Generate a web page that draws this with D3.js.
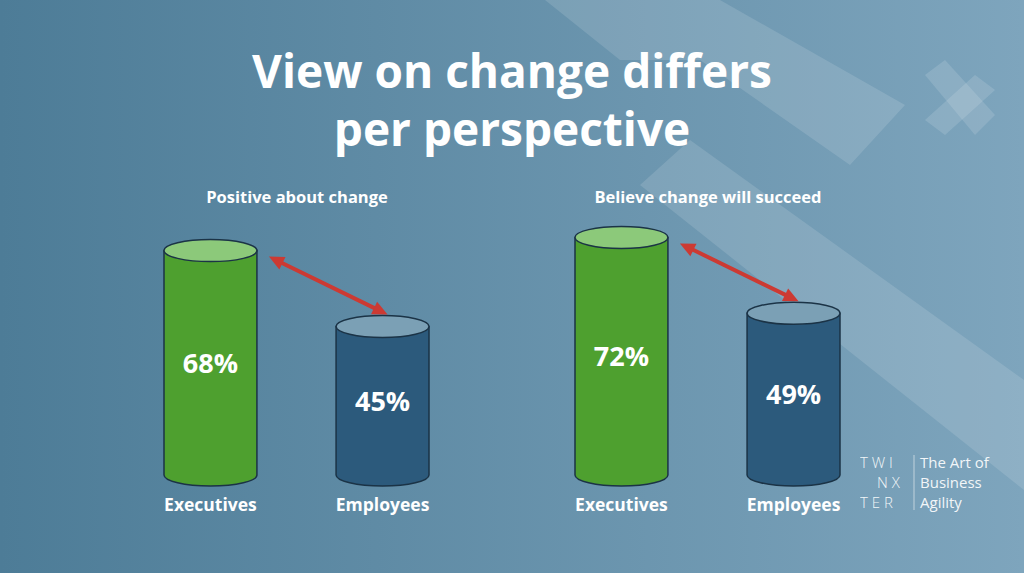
<!DOCTYPE html>
<html lang="en">
<head>
  <meta charset="utf-8">
  <script src="https://cdn.jsdelivr.net/npm/d3@7"></script>
  <style>
    body { margin: 0; overflow: hidden; }
    text { font-family: "Open Sans", Lato, sans-serif; fill: #fff; }
  </style>
</head>
<body>
  <svg id="chart" width="1024" height="573"></svg>
  <script>
    // chart data
    const groups = ['Positive about change', 'Believe change will succeed'];
    const categories = ['Executives', 'Employees'];
    const values = [[68, 45], [72, 49]];

    const svg = d3.select('#chart');
    const W = 1024, H = 573;

    // background
    const defs = svg.append('defs');
    const grad = defs.append('linearGradient').attr('id', 'bg')
      .attr('x1', '0').attr('x2', '1').attr('y1', '0').attr('y2', '0');
    grad.append('stop').attr('offset', '0%').attr('stop-color', '#4d7c97');
    grad.append('stop').attr('offset', '100%').attr('stop-color', '#7ea5bd');
    svg.append('rect').attr('width', W).attr('height', H).attr('fill', 'url(#bg)');

    // decorative shapes
    const deco = [
      [[545, 0], [720, 0], [905, 105], [850, 165], [700, 60], [620, 60]],
      [[640, 185], [690, 140], [1024, 380], [1024, 490]],
      [[925, 75], [945, 60], [995, 115], [975, 135]],
      [[975, 75], [995, 90], [945, 135], [925, 120]]
    ];
    svg.selectAll('polygon.deco').data(deco).enter().append('polygon')
      .attr('class', 'deco')
      .attr('points', d => d.map(p => p.join(',')).join(' '))
      .attr('fill', '#ffffff').attr('fill-opacity', 0.13);

    // title
    svg.append('text').attr('x', 512).attr('y', 88).attr('text-anchor', 'middle')
      .attr('font-size', 46).attr('font-weight', 700).text('View on change differs');
    svg.append('text').attr('x', 512).attr('y', 146).attr('text-anchor', 'middle')
      .attr('font-size', 46).attr('font-weight', 700).text('per perspective');

    const base = 475;
    const y = d3.scaleLinear().domain([0, 100]).range([base, base - 330]);
    const gx = d3.scaleOrdinal().domain(groups).range([164, 575]);
    const cx = d3.scaleBand().domain(categories).range([0, 265]).paddingInner(0.46).paddingOuter(0);
    const rx = cx.bandwidth() / 2, ry = 11;
    const colors = { Executives: ['#4ea02f', '#8cc97a'], Employees: ['#2c5a7c', '#7ba0b5'] };

    groups.forEach((g, gi) => {
      const G = svg.append('g').attr('transform', `translate(${gx(g)},0)`);
      G.append('text').attr('x', 133).attr('y', 203).attr('text-anchor', 'middle')
        .attr('font-size', 16.5).attr('font-weight', 700).text(g);

      const data = categories.map((c, i) => ({ c, v: values[gi][i] }));
      const cyl = G.selectAll('g.cyl').data(data).enter().append('g')
        .attr('transform', d => `translate(${cx(d.c) + rx},0)`);
      cyl.append('path')
        .attr('d', d => `M${-rx},${y(d.v)} L${-rx},${base} A${rx},${ry} 0 0 0 ${rx},${base} L${rx},${y(d.v)} Z`)
        .attr('fill', d => colors[d.c][0]).attr('stroke', '#1b3346').attr('stroke-width', 1.5);
      cyl.append('ellipse').attr('cx', 0).attr('cy', d => y(d.v)).attr('rx', rx).attr('ry', ry)
        .attr('fill', d => colors[d.c][1]).attr('stroke', '#1b3346').attr('stroke-width', 1.5);
      cyl.append('text').attr('y', d => (y(d.v) + base) / 2 + 10).attr('text-anchor', 'middle')
        .attr('font-size', 27).attr('font-weight', 700).text(d => d.v + '%');
      cyl.append('text').attr('y', 511).attr('text-anchor', 'middle')
        .attr('font-size', 17.5).attr('font-weight', 700).text(d => d.c);

      // arrow between tops
      const x1 = cx(categories[0]) + 2 * rx + 12, y1 = y(data[0].v) + 6;
      const x2 = cx(categories[1]) + rx + 5, y2 = y(data[1].v) - 12;
      const ang = Math.atan2(y2 - y1, x2 - x1);
      const head = (x, yy, a) => {
        const L = 15, Wd = 7;
        const bx = x - L * Math.cos(a), by = yy - L * Math.sin(a);
        return `${x},${yy} ${bx + Wd * Math.sin(a)},${by - Wd * Math.cos(a)} ${bx - Wd * Math.sin(a)},${by + Wd * Math.cos(a)}`;
      };
      G.append('line').attr('x1', x1 + 10 * Math.cos(ang)).attr('y1', y1 + 10 * Math.sin(ang))
        .attr('x2', x2 - 10 * Math.cos(ang)).attr('y2', y2 - 10 * Math.sin(ang))
        .attr('stroke', '#cc3a33').attr('stroke-width', 4);
      G.append('polygon').attr('points', head(x2, y2, ang)).attr('fill', '#cc3a33');
      G.append('polygon').attr('points', head(x1, y1, ang + Math.PI)).attr('fill', '#cc3a33');
    });

    // logo
    const logo = svg.append('g').attr('opacity', 0.9);
    [['T W I', 860, 468], ['N X', 877, 488], ['T E R', 860, 508]].forEach(d => {
      logo.append('text').attr('x', d[1]).attr('y', d[2]).attr('font-size', 15).attr('font-weight', 300).text(d[0]);
    });
    logo.append('line').attr('x1', 914).attr('x2', 914).attr('y1', 455).attr('y2', 510)
      .attr('stroke', '#fff').attr('stroke-opacity', 0.6);
    [['The Art of', 468], ['Business', 488], ['Agility', 508]].forEach(d => {
      logo.append('text').attr('x', 920).attr('y', d[1]).attr('font-size', 15).text(d[0]);
    });
  </script>
</body>
</html>
